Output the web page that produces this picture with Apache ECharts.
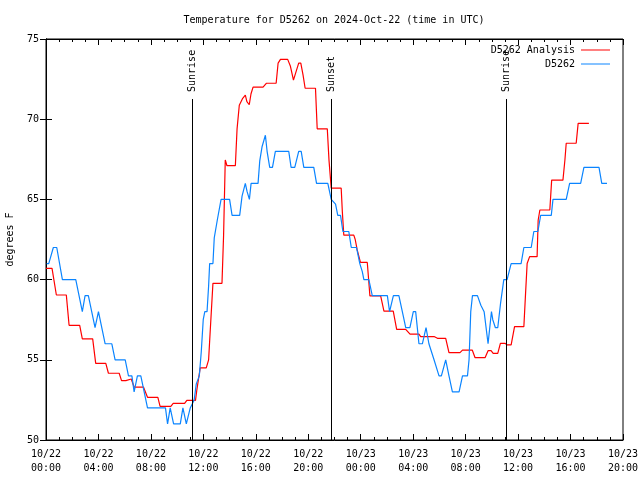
<!DOCTYPE html>
<html><head><meta charset="utf-8">
<script src="https://cdn.jsdelivr.net/npm/echarts@6/dist/echarts.min.js"></script>
<style>html,body{margin:0;padding:0;background:#fff}#c{width:640px;height:480px}</style>
</head><body><div id="c"></div>
<script>
const titleText = 'Temperature for D5262 on 2024-Oct-22 (time in UTC)';
const seriesNames = ['D5262 Analysis', 'D5262'];
const dayLabels = ['10/22', '10/23'];
const yAxisName = 'degrees F';

// hours since 2024-10-22 00:00 UTC
const redHours = [0,0.46,0.79,1.55,1.76,2.57,2.77,3.56,3.79,4.56,4.76,5.58,5.76,6.09,6.2,6.5,6.72,7.43,7.74,8.53,8.7,9.52,9.7,10.57,10.74,11.4,11.5,11.76,12.22,12.4,12.53,12.73,13.42,13.54,13.67,13.8,14.44,14.57,14.74,15.0,15.2,15.32,15.5,15.63,15.79,16.55,16.8,17.55,17.7,17.88,18.43,18.64,18.87,19.27,19.43,19.6,19.76,20.55,20.68,21.45,21.58,21.75,22.51,22.6,22.71,23.47,23.58,23.73,23.98,24.5,24.7,25.52,25.77,26.48,26.74,27.43,27.76,28.44,28.57,29.59,29.85,30.48,30.73,31.57,31.76,32.51,32.72,33.48,33.71,33.94,34.1,34.45,34.65,35.0,35.16,35.47,35.73,36.44,36.57,36.69,36.88,37.45,37.53,37.66,38.42,38.56,39.42,39.57,39.67,40.43,40.58,41.4];
const redTemps = [60.7,60.7,59.04,59.04,57.15,57.15,56.3,56.3,54.78,54.78,54.16,54.16,53.7,53.7,53.8,53.8,53.3,53.3,52.66,52.66,52.1,52.1,52.28,52.28,52.47,52.47,53.1,54.5,54.5,55,56.9,59.77,59.77,62.7,67.46,67.1,67.1,69.4,70.87,71.3,71.5,71.1,70.9,71.57,72.0,72.0,72.24,72.24,73.5,73.73,73.73,73.3,72.44,73.5,73.5,72.76,71.93,71.93,69.4,69.4,67.45,65.7,65.7,64.2,62.77,62.77,62.5,61.85,61.07,61.07,58.98,58.98,58.04,58.04,56.9,56.9,56.6,56.6,56.45,56.45,56.34,56.34,55.45,55.45,55.6,55.6,55.13,55.13,55.57,55.57,55.4,55.4,56.03,56.03,55.93,55.93,57.07,57.07,59.14,61.0,61.43,61.43,63.7,64.34,64.34,66.2,66.2,67.46,68.5,68.5,69.74,69.74];

const blueHours = [0.05,0.21,0.56,0.82,1.25,2.27,2.77,2.98,3.23,3.74,4.0,4.51,5.02,5.27,6.04,6.29,6.55,6.72,6.97,7.23,7.74,9.11,9.27,9.47,9.73,10.24,10.44,10.7,11.0,11.15,11.3,11.46,11.69,11.84,11.99,12.11,12.28,12.4,12.48,12.73,12.83,13.06,13.35,14.0,14.19,14.77,14.95,15.2,15.33,15.51,15.64,16.17,16.3,16.48,16.73,16.86,17.06,17.27,17.49,18.51,18.69,18.97,19.27,19.46,19.66,20.42,20.63,21.49,21.75,22.08,22.25,22.46,22.64,23.09,23.28,23.68,23.93,24.12,24.24,24.62,24.88,26.03,26.2,26.49,26.91,27.25,27.43,27.75,28.01,28.19,28.44,28.7,28.98,29.2,29.59,29.72,29.97,30.15,30.48,30.73,30.99,31.5,31.76,32.14,32.26,32.39,32.52,32.9,33.16,33.41,33.51,33.71,33.97,34.07,34.27,34.45,34.66,34.91,35.16,35.47,36.23,36.44,37.0,37.2,37.51,37.72,38.53,38.66,39.67,39.93,40.77,41.02,42.17,42.38,42.78];
const blueTemps = [61,61,62,62,60,60,58,59,59,57,58,56,56,55,55,54,54,53,54,54,52,52,51,52,51,51,52,51,52,52,52.5,53.5,54,55.5,57.5,58,58,59.6,61,61,62.6,63.7,65,65,64,64,65.2,66,65.5,65,66,66,67.4,68.3,69,68,67,67,68,68,67,67,68,68,67,67,66,66,65,64.7,64,64,63,63,62,62,61,60.5,60,60,59,59,58,59,59,57.7,57,57,58,58,56,56,57,56,55,55,54,54,55,54,53,53,54,54,55,58,59,59,58.4,58,58,56,58,57.5,57,57,58.5,60,60,61,61,62,62,63,63,64,64,65,65,66,66,67,67,66,66];

// sun events (hours) and their labels
const sunHours = [11.15, 21.76, 35.1];
const sunLabels = ['Sunrise', 'Sunset', 'Sunrise'];
const sunLineTop = 71.26;

const xMin = 0, xMax = 44, xStep = 4;
const yMin = 50, yMax = 75, yStep = 5;

const FONT = 'DejaVu Sans Mono';
const pad = n => (n < 10 ? '0' : '') + n;
const xFmt = v => dayLabels[Math.floor(v / 24)] + '\n' + pad(v % 24) + ':00';

const chart = echarts.init(document.getElementById('c'), null, {renderer: 'canvas'});
const redData = redHours.map((h, i) => [h, redTemps[i]]);
const blueData = blueHours.map((h, i) => [h, blueTemps[i]]);

const RED = '#ff0000', BLUE = '#0a84ff';
const gridL = 46, gridR = 17, gridT = 39, gridB = 40;
const tickStyle = {show: true, inside: true, length: 6, lineStyle: {color: '#000', width: 1}};
const minorStyle = {show: true, splitNumber: 4, length: 3, lineStyle: {color: '#000', width: 1}};
const legendBase = {orient: 'vertical', right: 25, align: 'right', icon: 'rect', itemWidth: 29, itemHeight: 1, itemGap: 0,
  textStyle: {fontFamily: FONT, fontSize: 10, color: '#000', padding: [0, 1, 0, 0]}};

const option = {
  animation: false,
  backgroundColor: '#fff',
  textStyle: {fontFamily: FONT},
  title: {
    text: titleText, left: 329, top: 10, textAlign: 'center',
    textStyle: {fontFamily: FONT, fontSize: 10, fontWeight: 'normal', color: '#000'}
  },
  legend: [
    Object.assign({data: [seriesNames[0]], top: 40}, legendBase),
    Object.assign({data: [seriesNames[1]], top: 54}, legendBase)
  ],
  grid: {left: gridL, right: gridR, top: gridT, bottom: gridB, containLabel: false, outerBoundsMode: 'none',
    show: true, borderColor: '#000', borderWidth: 1, backgroundColor: 'transparent'},
  xAxis: [
    {type: 'value', min: xMin, max: xMax, interval: xStep, position: 'bottom',
     axisLine: {show: true, lineStyle: {color: '#000', width: 1}},
     axisTick: tickStyle, minorTick: minorStyle, splitLine: {show: false},
     axisLabel: {formatter: xFmt, color: '#000', fontFamily: FONT, fontSize: 10, lineHeight: 14, margin: 7}},
    {type: 'value', min: xMin, max: xMax, interval: xStep, position: 'top',
     axisLine: {show: true, lineStyle: {color: '#000', width: 1}},
     axisTick: tickStyle, minorTick: minorStyle, splitLine: {show: false}, axisLabel: {show: false}}
  ],
  yAxis: [
    {type: 'value', min: yMin, max: yMax, interval: yStep, position: 'left',
     name: yAxisName, nameLocation: 'middle', nameRotate: 90, nameGap: 31,
     nameTextStyle: {fontFamily: FONT, fontSize: 10, color: '#000'},
     axisLine: {show: true, lineStyle: {color: '#000', width: 1}},
     axisTick: tickStyle, splitLine: {show: false},
     axisLabel: {color: '#000', fontFamily: FONT, fontSize: 10, margin: 7}},
    {type: 'value', min: yMin, max: yMax, interval: yStep, position: 'right',
     axisLine: {show: true, lineStyle: {color: '#000', width: 1}},
     axisTick: tickStyle, splitLine: {show: false}, axisLabel: {show: false}}
  ],
  series: [
    {name: seriesNames[0], type: 'line', data: redData, symbol: 'none', showSymbol: false,
     lineStyle: {color: RED, width: 1.2}, itemStyle: {color: RED}, z: 3,
     markLine: {silent: true, symbol: 'none', animation: false,
       lineStyle: {color: '#000', width: 1, type: 'solid'}, label: {show: false},
       data: sunHours.map(h => [{coord: [h, yMin]}, {coord: [h, sunLineTop]}])}},
    {name: seriesNames[1], type: 'line', data: blueData, symbol: 'none', showSymbol: false,
     lineStyle: {color: BLUE, width: 1.2}, itemStyle: {color: BLUE}, z: 4}
  ]
};
chart.setOption(option);

const graphics = sunHours.map((h, i) => {
  const p = chart.convertToPixel({gridIndex: 0}, [h, sunLineTop]);
  return {type: 'text', x: p[0], y: p[1] - 7, rotation: Math.PI / 2, z: 10,
    style: {text: sunLabels[i], fontFamily: FONT, fontSize: 10, fill: '#000', align: 'left', verticalAlign: 'middle'}};
});
chart.setOption({graphic: graphics});
</script>
</body></html>
